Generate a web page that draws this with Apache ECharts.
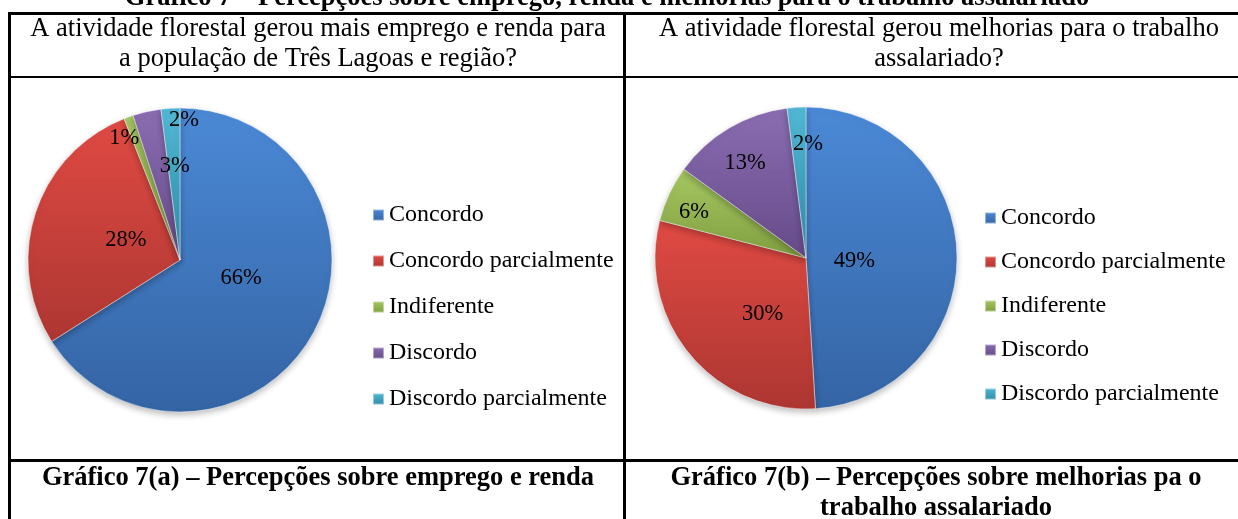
<!DOCTYPE html>
<html>
<head>
<meta charset="utf-8">
<script src="https://cdn.jsdelivr.net/npm/echarts@6/dist/echarts.min.js"></script>
<style>
  html, body { margin: 0; padding: 0; background: #fff; }
  #main { width: 1238px; height: 519px; }
</style>
</head>
<body>
<div id="main"></div>
<script>
var categorias = ['Concordo', 'Concordo parcialmente', 'Indiferente', 'Discordo', 'Discordo parcialmente'];
var valoresA = [66, 28, 1, 3, 2];
var valoresB = [49, 30, 6, 13, 2];

var tituloGeral = 'Gráfico 7 – Percepções sobre emprego, renda e melhorias para o trabalho assalariado';
var perguntaA = 'A atividade florestal gerou mais emprego e renda para\na população de Três Lagoas e região?';
var perguntaB = 'A atividade florestal gerou melhorias para o trabalho\nassalariado?';
var legendaA = 'Gráfico 7(a) – Percepções sobre emprego e renda';
var legendaB = 'Gráfico 7(b) – Percepções sobre melhorias pa o\ntrabalho assalariado';

// deslocamento dos rótulos (px) em relação à posição 'inside'
var ajusteA = [[-8, -20], [21, 5], [-29, -48], [12, -17], [9, -61]];
var ajusteB = [[-30, 6], [17, 6], [-41, -12], [-21, -27], [7, -36]];

var cores = [
    ['#4b89d6', '#3464a4'],
    ['#e04a43', '#ad3632'],
    ['#a6c763', '#7f9e3f'],
    ['#8b6db2', '#654a88'],
    ['#52b8d4', '#2f8ca8']
];

var fonte = '"Liberation Serif", "Times New Roman", serif';

function grad(c) {
    return new echarts.graphic.LinearGradient(0, 0, 0, 1, [
        { offset: 0, color: c[0] },
        { offset: 1, color: c[1] }
    ]);
}

function montaDados(valores) {
    return categorias.map(function (nome, i) {
        return {
            name: nome,
            value: valores[i],
            itemStyle: { color: grad(cores[i]) }
        };
    });
}

function serie(valores, centro, raio, ajuste) {
    return {
        type: 'pie',
        center: centro,
        radius: raio,
        startAngle: 90,
        clockwise: true,
        avoidLabelOverlap: false,
        silent: true,
        data: montaDados(valores),
        itemStyle: {
            borderColor: 'rgba(255,255,255,0.45)',
            borderWidth: 1,
            shadowBlur: 6,
            shadowColor: 'rgba(0,0,0,0.25)',
            shadowOffsetY: 3
        },
        label: {
            show: true,
            position: 'inside',
            formatter: '{c}%',
            color: '#000',
            fontFamily: fonte,
            fontSize: 22.5
        },
        labelLine: { show: false },
        labelLayout: function (p) {
            var d = ajuste[p.dataIndex];
            return { dx: d[0], dy: d[1] };
        }
    };
}

function legenda(x, y, gap) {
    return {
        orient: 'vertical',
        left: x,
        top: y,
        icon: 'rect',
        itemWidth: 11,
        itemHeight: 11,
        itemGap: gap,
        selectedMode: false,
        data: categorias.map(function (nome, i) {
            return { name: nome, itemStyle: { color: grad(cores[i]) } };
        }),
        textStyle: { fontFamily: fonte, fontSize: 24, color: '#000', lineHeight: 24, padding: [0, 0, 0, 0] }
    };
}

var preto = '#000';
var myChart = echarts.init(document.getElementById('main'));
myChart.setOption({
    backgroundColor: '#fff',
    animation: false,
    legend: [
        legenda(367, 198, 22),
        legenda(979, 201, 20)
    ],
    series: [
        serie(valoresA, [180, 260], 152, ajusteA),
        serie(valoresB, [806, 258], 151, ajusteB)
    ],
    graphic: [
        // grade da tabela
        { type: 'rect', shape: { x: 8, y: 12, width: 1240, height: 3 }, style: { fill: preto } },
        { type: 'rect', shape: { x: 8, y: 12, width: 3, height: 520 }, style: { fill: preto } },
        { type: 'rect', shape: { x: 623, y: 12, width: 3, height: 520 }, style: { fill: preto } },
        { type: 'rect', shape: { x: 8, y: 76, width: 1240, height: 2 }, style: { fill: preto } },
        { type: 'rect', shape: { x: 8, y: 459, width: 1240, height: 3 }, style: { fill: preto } },
        // textos
        { type: 'text', x: 607, y: -2, style: { text: tituloGeral, fill: preto, font: 'bold 26.5px ' + fonte, align: 'center', verticalAlign: 'middle' } },
        { type: 'text', x: 318, y: 44, style: { text: perguntaA, fill: preto, font: '26.5px ' + fonte, align: 'center', verticalAlign: 'middle', lineHeight: 30 } },
        { type: 'text', x: 939, y: 44, style: { text: perguntaB, fill: preto, font: '26.5px ' + fonte, align: 'center', verticalAlign: 'middle', lineHeight: 30 } },
        { type: 'text', x: 318, y: 478, style: { text: legendaA, fill: preto, font: 'bold 26.5px ' + fonte, align: 'center', verticalAlign: 'middle' } },
        { type: 'text', x: 936, y: 493, style: { text: legendaB, fill: preto, font: 'bold 26.5px ' + fonte, align: 'center', verticalAlign: 'middle', lineHeight: 30 } }
    ]
});
</script>
</body>
</html>
